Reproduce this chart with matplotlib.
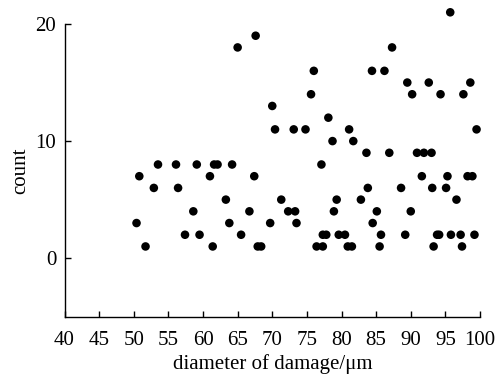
import matplotlib.pyplot as plt

plt.rcParams["font.family"] = ["Liberation Serif", "DejaVu Serif"]

# damage diameter (um) and count per crater
diameter = [
    50.4, 50.8, 51.7, 52.9, 53.5, 56.1, 56.4, 57.4, 58.6, 59.1, 59.5,
    61.0, 61.4, 61.6, 62.1, 63.3, 63.8, 64.2, 65.0, 65.5, 66.7, 67.4, 67.6, 67.9, 68.4,
    69.7, 70.0, 70.4, 71.3, 72.3, 73.1, 73.3, 73.5, 74.8, 75.6, 76.0, 76.4,
    77.1, 77.3, 77.3, 77.8, 78.1, 78.7, 78.9, 79.3, 79.6, 80.5, 80.9, 81.1, 81.5,
    81.7, 82.8, 83.6, 83.8, 84.4, 84.5, 85.1, 85.5, 85.7, 86.2, 86.9, 87.3,
    88.6, 89.2, 89.5, 90.0, 90.2, 90.9, 91.6, 91.9, 92.6, 93.0, 93.1, 93.3, 93.8,
    94.1, 94.3, 95.1, 95.3, 95.7, 95.8, 96.6, 97.2, 97.4, 97.6, 98.2, 98.6, 98.9,
    99.2, 99.5,
]
count = [
    3, 7, 1, 6, 8, 8, 6, 2, 4, 8, 2,
    7, 1, 8, 8, 5, 3, 8, 18, 2, 4, 7, 19, 1, 1,
    3, 13, 11, 5, 4, 11, 4, 3, 11, 14, 16, 1,
    8, 2, 1, 2, 12, 10, 4, 5, 2, 2, 1, 11, 1,
    10, 5, 9, 6, 16, 3, 4, 1, 2, 16, 9, 18,
    6, 2, 15, 4, 14, 9, 7, 9, 15, 9, 6, 1, 2,
    2, 14, 6, 7, 21, 2, 5, 2, 1, 14, 7, 15, 7,
    2, 11,
]

fig = plt.figure(figsize=(5.02, 3.74), dpi=100)
ax = fig.add_axes([0.1285, 0.1532, 0.8277, 0.7826])

ax.scatter(diameter, count, s=38, color="black", edgecolors="none", clip_on=False, zorder=3)

ax.set_xlim(40, 100)
ax.set_ylim(-5, 20)
ax.set_xticks(range(40, 101, 5))
ax.set_yticks([0, 10, 20])

for side in ("top", "right"):
    ax.spines[side].set_visible(False)
for side in ("left", "bottom"):
    ax.spines[side].set_linewidth(1.0)

ax.tick_params(direction="in", length=4, width=1.0, labelsize=15)
ax.tick_params(axis="x", pad=10)
ax.tick_params(axis="y", pad=6)
ax.set_xlabel("diameter of damage/μm", fontsize=15, labelpad=3)
ax.set_ylabel("count", fontsize=15, labelpad=4)

fig.savefig("out.png", dpi=100)
